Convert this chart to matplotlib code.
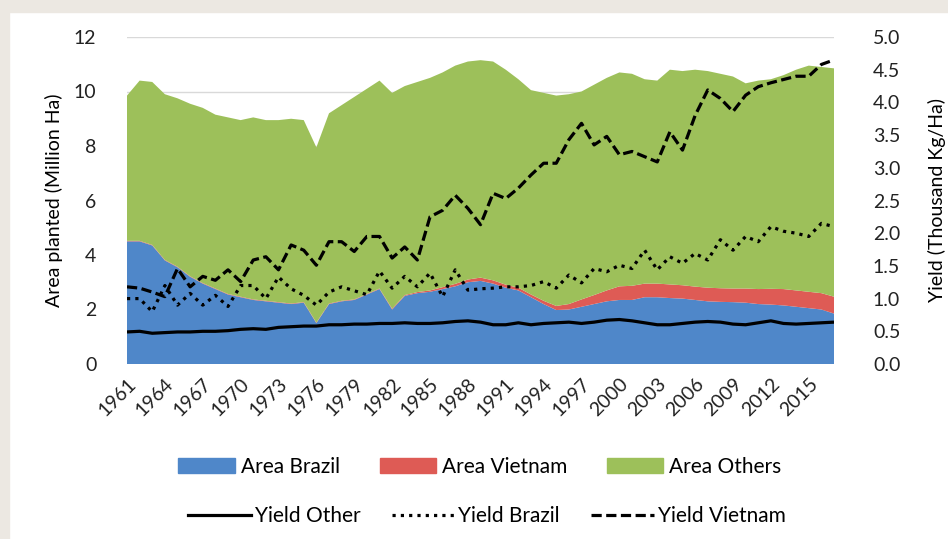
import matplotlib.pyplot as plt
import numpy as np
from matplotlib.patches import Patch, Rectangle
from matplotlib.lines import Line2D

plt.rcParams["font.family"] = ["Lato", "DejaVu Sans"]

years = np.arange(1961, 2018)

# Area planted (million ha), stacked
area_brazil = [4.50, 4.50, 4.35, 3.80, 3.55, 3.20, 2.95, 2.75, 2.55, 2.45,
               2.35, 2.30, 2.25, 2.20, 2.25, 1.50, 2.20, 2.30, 2.35, 2.55,
               2.75, 2.00, 2.50, 2.60, 2.65, 2.75, 2.85, 3.00, 3.05, 2.95,
               2.80, 2.70, 2.45, 2.20, 1.98, 2.00, 2.10, 2.20, 2.30, 2.35,
               2.35, 2.45, 2.45, 2.42, 2.40, 2.35, 2.30, 2.28, 2.27, 2.25,
               2.20, 2.18, 2.15, 2.10, 2.05, 2.00, 1.85]
area_vietnam = [0.02, 0.02, 0.02, 0.02, 0.02, 0.02, 0.02, 0.02, 0.02, 0.02,
                0.02, 0.02, 0.02, 0.02, 0.02, 0.02, 0.02, 0.02, 0.02, 0.02,
                0.02, 0.03, 0.03, 0.04, 0.05, 0.07, 0.09, 0.10, 0.12, 0.12,
                0.11, 0.10, 0.10, 0.12, 0.15, 0.20, 0.27, 0.33, 0.40, 0.50,
                0.52, 0.50, 0.50, 0.50, 0.49, 0.49, 0.50, 0.50, 0.50, 0.52,
                0.55, 0.58, 0.60, 0.60, 0.60, 0.60, 0.62]
area_others = [5.33, 5.88, 5.98, 6.08, 6.18, 6.33, 6.43, 6.38, 6.48, 6.48,
               6.68, 6.63, 6.68, 6.78, 6.68, 6.43, 6.98, 7.18, 7.43, 7.53,
               7.63, 7.92, 7.67, 7.71, 7.80, 7.88, 8.01, 8.00, 7.98, 8.03,
               7.89, 7.65, 7.50, 7.63, 7.72, 7.70, 7.63, 7.72, 7.80, 7.85,
               7.78, 7.50, 7.45, 7.88, 7.86, 7.96, 7.95, 7.87, 7.78, 7.53,
               7.65, 7.69, 7.85, 8.10, 8.30, 8.30, 8.38]

# Yield (thousand kg/ha)
yield_other = [0.49, 0.50, 0.47, 0.48, 0.49, 0.49, 0.50, 0.50, 0.51, 0.53,
               0.54, 0.53, 0.56, 0.57, 0.58, 0.58, 0.60, 0.60, 0.61, 0.61,
               0.62, 0.62, 0.63, 0.62, 0.62, 0.63, 0.65, 0.66, 0.64, 0.60,
               0.60, 0.63, 0.60, 0.62, 0.63, 0.64, 0.62, 0.64, 0.67, 0.68,
               0.66, 0.63, 0.60, 0.60, 0.62, 0.64, 0.65, 0.64, 0.61, 0.60,
               0.63, 0.66, 0.62, 0.61, 0.62, 0.63, 0.64]
yield_brazil = [1.00, 1.00, 0.80, 1.20, 0.90, 1.08, 0.90, 1.05, 0.88, 1.20,
                1.20, 1.00, 1.33, 1.15, 1.05, 0.90, 1.10, 1.18, 1.12, 1.06,
                1.42, 1.16, 1.34, 1.18, 1.39, 1.03, 1.44, 1.13, 1.15, 1.16,
                1.18, 1.18, 1.20, 1.26, 1.16, 1.36, 1.24, 1.46, 1.41, 1.51,
                1.46, 1.74, 1.44, 1.64, 1.54, 1.69, 1.59, 1.90, 1.74, 1.95,
                1.87, 2.10, 2.03, 2.00, 1.95, 2.15, 2.10]
yield_vietnam = [1.18, 1.16, 1.10, 1.03, 1.46, 1.18, 1.34, 1.28, 1.44, 1.26,
                 1.59, 1.64, 1.44, 1.82, 1.74, 1.51, 1.87, 1.87, 1.72, 1.95,
                 1.95, 1.62, 1.79, 1.59, 2.25, 2.35, 2.58, 2.38, 2.13, 2.61,
                 2.53, 2.69, 2.89, 3.07, 3.07, 3.43, 3.68, 3.35, 3.48, 3.20,
                 3.25, 3.17, 3.09, 3.55, 3.27, 3.80, 4.19, 4.06, 3.86, 4.11,
                 4.24, 4.30, 4.35, 4.40, 4.40, 4.58, 4.65]

c_brazil = "#4F87C9"
c_vietnam = "#DE5B55"
c_others = "#9DC05A"

fig = plt.figure(figsize=(9.48, 5.39), dpi=100)
# beige frame strips like the source screenshot
fig.patches.append(Rectangle((0, 0), 9 / 948, 1, transform=fig.transFigure,
                             color="#ECE8E2", zorder=0))
fig.patches.append(Rectangle((0, 1 - 12 / 539), 1, 12 / 539, transform=fig.transFigure,
                             color="#ECE8E2", zorder=0))

ax = fig.add_axes([127 / 948, 1 - 364 / 539, (834 - 127) / 948, (364 - 37) / 539])
ax.stackplot(years, area_brazil, area_vietnam, area_others,
             colors=[c_brazil, c_vietnam, c_others], linewidth=0, zorder=2)
ax.set_xlim(1961, 2017)
ax.set_ylim(0, 12)
ax.set_yticks(np.arange(0, 13, 2))
ax.grid(axis="y", color="#d9d9d9", linewidth=1.0, zorder=0)
ax.set_axisbelow(True)
ax.set_xticks(years[::3])
ax.set_xticklabels([str(y) for y in years[::3]], rotation=45, ha="right",
                   rotation_mode="anchor", fontsize=13)
ax.tick_params(axis="both", length=0, labelsize=14, colors="#222222")
ax.tick_params(axis="y", pad=22)
ax.tick_params(axis="x", pad=8)
ax.set_ylabel("Area planted (Million Ha)", fontsize=14, labelpad=8)
for s in ax.spines.values():
    s.set_visible(False)

ax2 = ax.twinx()
ax2.plot(years, yield_other, color="black", linewidth=2.3, solid_capstyle="butt")
ax2.plot(years, yield_brazil, color="black", linewidth=2.3, linestyle=(0, (1, 1.6)))
ax2.plot(years, yield_vietnam, color="black", linewidth=2.3, linestyle=(0, (3.2, 1.4)))
ax2.set_ylim(0, 5)
ax2.set_yticks(np.arange(0, 5.01, 0.5))
ax2.set_yticklabels([f"{v:.1f}" for v in np.arange(0, 5.01, 0.5)])
ax2.tick_params(axis="y", length=0, labelsize=14, pad=28, colors="#222222")
ax2.set_ylabel("Yield (Thousand Kg/Ha)", fontsize=14, labelpad=20)
for s in ax2.spines.values():
    s.set_visible(False)

area_handles = [Patch(color=c_brazil, label="Area Brazil"),
                Patch(color=c_vietnam, label="Area Vietnam"),
                Patch(color=c_others, label="Area Others")]
line_handles = [Line2D([], [], color="black", lw=2.3, label="Yield Other"),
                Line2D([], [], color="black", lw=2.3, ls=(0, (1, 1.6)), label="Yield Brazil"),
                Line2D([], [], color="black", lw=2.3, ls=(0, (3.2, 1.4)), label="Yield Vietnam")]

leg1 = fig.legend(handles=area_handles, ncol=3, loc="center",
                  bbox_to_anchor=(480 / 948, 1 - 467 / 539), frameon=False,
                  fontsize=15, handlelength=2.7, handleheight=0.7,
                  handletextpad=0.3, columnspacing=1.9)
leg2 = fig.legend(handles=line_handles, ncol=3, loc="center",
                  bbox_to_anchor=(487 / 948, 1 - 516 / 539), frameon=False,
                  fontsize=15, handlelength=3.0, handletextpad=0.2,
                  columnspacing=1.5)

fig.savefig("out.png", dpi=100)
